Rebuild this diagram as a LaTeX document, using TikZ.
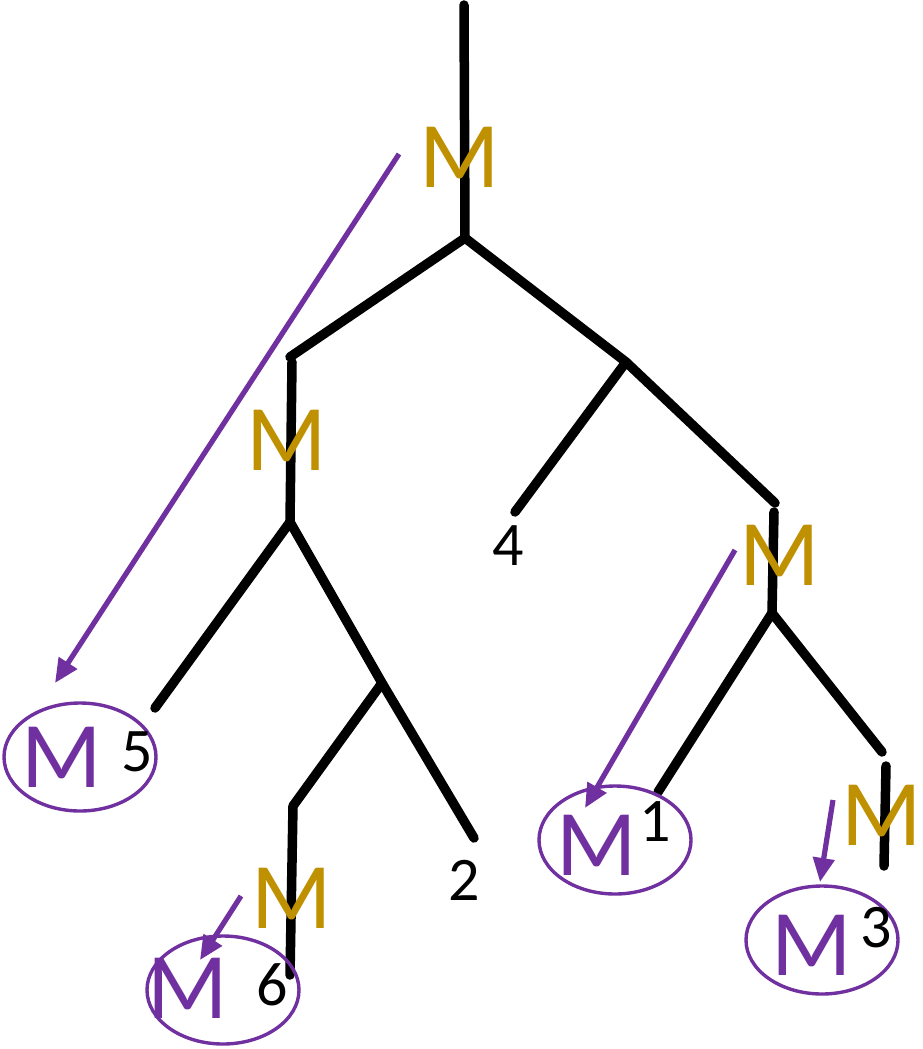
\documentclass[tikz,border=0pt]{standalone}
\usepackage{fontspec}
\setmainfont{Carlito}
\usetikzlibrary{arrows.meta,shapes.geometric}
\definecolor{mpurple}{HTML}{7030A0}
\definecolor{mgold}{HTML}{BF9000}
\begin{document}
\begin{tikzpicture}[x=1pt,y=-1pt,
  branch/.style={line width=9.5pt,line cap=round,line join=round,black},
  goldm/.style={inner sep=0pt,text=mgold,font=\fontsize{94}{94}\selectfont},
  purplem/.style={inner sep=0pt,text=mpurple,font=\fontsize{94}{94}\selectfont},
  digit/.style={inner sep=0pt,text=black,font=\fontsize{62}{62}\selectfont},
  ring/.style={draw=mpurple,line width=3.4pt,ellipse,minimum width=152pt,minimum height=108pt},
  parr/.style={draw=mpurple,line width=5.2pt,-{Triangle[length=24pt,width=21pt]}}]
\useasboundingbox (0,0) rectangle (922,1049);
% junctions
\coordinate (top) at (464,5);
\coordinate (r) at (465,238);
\coordinate (a) at (290,357);
\coordinate (a1) at (292,362);
\coordinate (ab) at (290,522);
\coordinate (l5) at (155,708);
\coordinate (c) at (382,683);
\coordinate (c6) at (293,806);
\coordinate (c6b) at (290,975);
\coordinate (l2) at (474,838);
\coordinate (d) at (626,362);
\coordinate (l4) at (515,512);
\coordinate (e) at (775,503);
\coordinate (e1) at (774,512);
\coordinate (eb) at (772,613);
\coordinate (l1) at (658,792);
\coordinate (f) at (882,752);
\coordinate (f1) at (886,766);
\coordinate (f2) at (884,866);
% tree
\draw[branch] (top) -- (r);
\draw[branch] (a) -- (r) -- (d);
\draw[branch] (a1) -- (ab);
\draw[branch] (l5) -- (ab) -- (c) -- (l2);
\draw[branch] (c) -- (c6) -- (c6b);
\draw[branch] (l4) -- (d) -- (e);
\draw[branch] (e1) -- (eb);
\draw[branch] (l1) -- (eb) -- (f);
\draw[branch] (f1) -- (f2);
% gold labels
\node[goldm] (g1) at (460,157) {M};
\node[goldm] (g2) at (287,440) {M};
\node[goldm] (g3) at (292,898) {M};
\node[goldm] (g4) at (780,555) {M};
\node[goldm] (g5) at (882,815) {M};
% leaf digits
\node[digit] (n4) at (508,546) {4};
\node[digit] (n2) at (464,880) {2};
% purple ellipses
\node[ring] (e5) at (80,757) {};
\node[purplem] (p5) at (62,757) {M};
\node[digit] (n5) at (137,752) {5};
\node[ring] (e6) at (223,990) {};
\node[purplem] (p6) at (188,988) {M};
\node[digit] (n6) at (272,985) {6};
\node[ring] (e1n) at (615,840) {};
\node[purplem] (p1) at (597,845) {M};
\node[digit] (n1) at (655,822) {1};
\node[ring] (e3) at (822,940) {};
\node[purplem] (p3) at (812,945) {M};
\node[digit] (n3) at (876,928) {3};
% arrows
\coordinate (s1) at (399,154); \coordinate (t1) at (55,683);
\coordinate (s2) at (735,550); \coordinate (t2) at (585,808);
\coordinate (s3) at (833,800); \coordinate (t3) at (820,882);
\coordinate (s4) at (241,896); \coordinate (t4) at (200,960);
\draw[parr] (s1) -- (t1);
\draw[parr] (s2) -- (t2);
\draw[parr] (s3) -- (t3);
\draw[parr] (s4) -- (t4);
\end{tikzpicture}
\end{document}
